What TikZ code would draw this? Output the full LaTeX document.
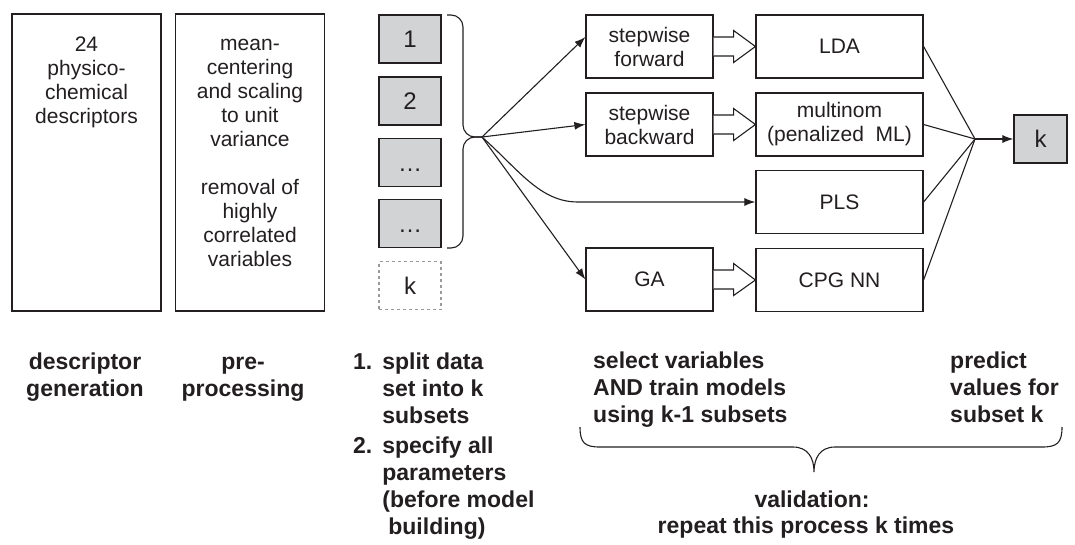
\documentclass[tikz,border=0pt]{standalone}
\usepackage{fontspec}
\setmainfont{Liberation Sans}
\usetikzlibrary{calc,arrows.meta}
\definecolor{ink}{HTML}{231F20}
\definecolor{boxgray}{HTML}{D1D3D4}
\definecolor{dashgray}{HTML}{9A9A9A}
\newcommand\ctab[1]{\begin{tabular}[t]{@{}c@{}}#1\end{tabular}}
\newcommand\ltab[1]{\begin{tabular}[t]{@{}l@{}}#1\end{tabular}}
\begin{document}
\begin{tikzpicture}[x=1pt,y=-1pt,
  every node/.style={text=ink},
  bigbox/.style={draw=ink, line width=1.2pt, minimum width=149pt, minimum height=297pt, inner sep=0pt},
  btext/.style={font=\fontsize{21}{24}\selectfont, inner sep=0pt},
  subsetbox/.style={draw=ink, line width=1.2pt, fill=boxgray, minimum width=62pt, minimum height=48pt, inner sep=0pt, text height=17pt, text depth=0pt, font=\fontsize{24}{28}\selectfont},
  mbox/.style={draw=ink, line width=1.2pt, fill=white, minimum width=127pt, minimum height=63pt, inner sep=0pt, align=center, font=\fontsize{21}{24}\selectfont},
  modelbox/.style={mbox, minimum width=167pt},
  conn/.style={draw=ink, line width=1.1pt, -{Latex[length=11pt,width=8pt]}},
  plainline/.style={draw=ink, line width=1.1pt},
  fat/.style={draw=ink, line width=1.1pt, fill=white, line join=miter},
  boldtext/.style={font=\fontsize{23}{27}\selectfont\bfseries, inner sep=0pt},
]
\useasboundingbox (0,0) rectangle (1075,544);

% stage 1 and 2 boxes
\node[bigbox] (desc) at (86.5,162.5) {};
\node[btext, anchor=base] (desctext) at (86.5,51) {\ctab{24\\physico-\\chemical\\descriptors}};
\node[bigbox] (prep) at (250,162.5) {};
\node[btext, anchor=base] (preptext) at (250,50) {\ctab{mean-\\centering\\and scaling\\to unit\\variance\\[24pt]removal of\\highly\\correlated\\variables}};

% subsets
\node[subsetbox] (s1) at (410,39) {1};
\node[subsetbox] (s2) at (410,101) {2};
\node[subsetbox] (s3) at (410,162.5) {\dots};
\node[subsetbox] (s4) at (410,223.5) {\dots};
\node[subsetbox, draw=dashgray, fill=none, dash pattern=on 3pt off 3pt] (sk) at (410,285.5) {k};

% brace
\coordinate (hub) at (482,137);
\draw[plainline, rounded corners=12pt] (447,15) -- (463,15) -- (463,137) -- (hub);
\draw[plainline, rounded corners=12pt] (hub) -- (463,137) -- (463,248) -- (447,248);

% method boxes
\node[mbox] (sf) at (649.5,46.5) {stepwise\\forward};
\node[mbox] (sb) at (649.5,124.5) {stepwise\\backward};
\node[mbox] (ga) at (649.5,279.5) {GA};

\node[modelbox] (lda) at (839.5,46.5) {LDA};
\node[modelbox] (mult) at (839.5,124.5) {multinom\\(penalized\ \ ML)};
\node[modelbox] (pls) at (839.5,202) {PLS};
\node[modelbox] (cpg) at (839.5,280) {CPG NN};

\node[subsetbox, minimum width=53pt] (kout) at (1040.5,139) {k};

% connectors from hub
\draw[conn] (hub) -- ($(sf.west)+(0,-9.5)$);
\draw[conn] (hub) -- (sb.west);
\draw[conn] (hub) -- (ga.west);
\draw[conn] (hub) .. controls (519,170) and (540,202) .. (578,202) -- (pls.west);

% fat arrows
\newcommand\fatarrow[2]{%
  \draw[fat] ($(#1.east)+(0,-9.5)$) -- ($(#1.east)+(20,-9.5)$) -- ($(#1.east)+(20,-16)$)
    -- (#2.west) -- ($(#1.east)+(20,16)$) -- ($(#1.east)+(20,9.5)$) -- ($(#1.east)+(0,9.5)$);}
\fatarrow{sf}{lda}
\fatarrow{sb}{mult}
\fatarrow{ga}{cpg}

% merge
\coordinate (merge) at (975,139);
\draw[plainline] (lda.east) -- (merge);
\draw[plainline] (mult.east) -- (merge);
\draw[plainline] (pls.east) -- (merge);
\draw[plainline] (cpg.east) -- (merge);
\draw[conn] (merge) -- (kout.west);

% bottom texts
\node[boldtext, anchor=base] (t1) at (85,369) {\ctab{descriptor\\generation}};
\node[boldtext, anchor=base] (t2) at (243,369) {\ctab{pre-\\processing}};
\node[boldtext, anchor=base west] (t3) at (353,369) {%
  \begin{tabular}[t]{@{}l@{\hspace{10pt}}l@{}}
  1. & split data\\
     & set into k\\
     & subsets\\[3pt]
  2. & specify all\\
     & parameters\\
     & (before model\\
     & \hspace{6pt}building)
  \end{tabular}};
\node[boldtext, anchor=base west] (t4) at (593,368) {\ltab{select variables\\AND train models\\using k-1 subsets}};
\node[boldtext, anchor=base west] (t5) at (950,368) {\ltab{predict\\values for\\subset k}};

% bottom brace
\draw[plainline] (580,427) .. controls (580,443) and (585,447) .. (600,447) -- (793,447)
  .. controls (808,447) and (814,458) .. (814,472)
  .. controls (814,458) and (820,447) .. (835,447) -- (1042,447)
  .. controls (1057,447) and (1062,443) .. (1062,427);

\node[boldtext, anchor=base] (t6) at (812,507) {validation:};
\node[boldtext, anchor=base] (t7) at (806,533) {repeat this process k times};
\end{tikzpicture}
\end{document}
